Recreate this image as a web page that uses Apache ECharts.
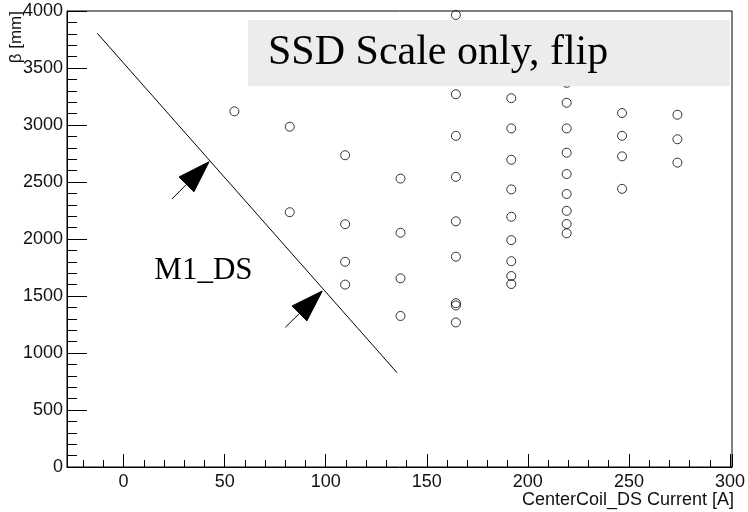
<!DOCTYPE html>
<html><head><meta charset="utf-8">
<script src="https://cdn.jsdelivr.net/npm/echarts@6/dist/echarts.min.js"></script>
<style>html,body{margin:0;padding:0;background:#fff}#c{width:748px;height:512px}</style>
</head><body><div id="c"></div>
<script>
// Coil currents [A] (columns of points)
const currents = [54.8, 82.2, 109.6, 137, 164.4, 191.8, 219.2, 246.6, 274];
// beta [mm] values at each current
const beta_54 = [3120];
const beta_82 = [2985, 2235];
const beta_110 = [2735, 2130, 1800, 1600];
const beta_137 = [2530, 2055, 1655, 1325];
const beta_164 = [3965, 3270, 2905, 2545, 2155, 1845, 1437, 1417, 1268];
const beta_192 = [3235, 2970, 2695, 2435, 2195, 1990, 1805, 1675, 1605];
const beta_219 = [3370, 3195, 2970, 2757, 2570, 2395, 2247, 2132, 2050];
const beta_247 = [3105, 2905, 2725, 2440];
const beta_274 = [3090, 2875, 2670];
const betaColumns = [beta_54, beta_82, beta_110, beta_137, beta_164, beta_192, beta_219, beta_247, beta_274];

// M1_DS boundary line (x [A], beta [mm])
const lineX = [-13, 135.3];
const lineY = [3804, 827];
// Arrows: tail and tip points
const arrowTail = [[23.9, 2351], [80.0, 1225]];
const arrowTip = [[42.3, 2678], [98.3, 1544]];
// Label
const labelText = ['M1_DS'];
const labelPos = [[15.2, 1719]];

const titleText = 'SSD Scale only, flip';
const xName = 'CenterCoil_DS Current [A]';
const yName = 'β [mm]';

const scatterData = [];
currents.forEach((c, i) => betaColumns[i].forEach(b => scatterData.push([c, b])));
const lineData = lineX.map((x, i) => [x, lineY[i]]);
const arrowData = arrowTail.map((t, i) => [t[0], t[1], arrowTip[i][0], arrowTip[i][1]]);
const labelData = labelPos.map((p, i) => [p[0], p[1], labelText[i]]);

const chart = echarts.init(document.getElementById('c'), null, {renderer: 'canvas'});
const black = '#000';
const option = {
  animation: false,
  grid: {left: 67, right: 12, top: 11, bottom: 45, show: true, borderColor: black, borderWidth: 1, backgroundColor: 'transparent'},
  xAxis: {
    type: 'value', min: -28, max: 301, splitNumber: 5,
    axisLine: {show: true, onZero: false, lineStyle: {color: black, width: 1}},
    axisTick: {show: true, inside: true, length: 13, lineStyle: {color: black}},
    minorTick: {show: true, splitNumber: 5, length: 7, lineStyle: {color: black}},
    splitLine: {show: false}, minorSplitLine: {show: false},
    axisLabel: {color: '#111', fontSize: 18, fontFamily: 'Liberation Sans', margin: 6,
      formatter: v => (Math.abs(v % 50) < 1e-6 ? String(Math.round(v)) : '')}
  },
  yAxis: {
    type: 'value', min: 0, max: 4000, interval: 500,
    axisLine: {show: true, onZero: false, lineStyle: {color: black, width: 1}},
    axisTick: {show: true, inside: true, length: 20, lineStyle: {color: black}},
    minorTick: {show: true, splitNumber: 5, length: 10, lineStyle: {color: black}},
    splitLine: {show: false}, minorSplitLine: {show: false},
    axisLabel: {color: '#111', fontSize: 18, fontFamily: 'Liberation Sans', margin: 4,
      formatter: v => String(Math.round(v))}
  },
  graphic: [
    {type: 'text', z: 100, x: 16, y: 11, rotation: Math.PI / 2,
      style: {text: yName, fontSize: 17, fontFamily: 'Liberation Sans', fill: '#111', align: 'right', verticalAlign: 'middle'}},
    {type: 'text', z: 100, x: 734, y: 500,
      style: {text: xName, fontSize: 18, fontFamily: 'Liberation Sans', fill: '#111', align: 'right', verticalAlign: 'middle'}},
    {type: 'rect', z: 100, shape: {x: 248, y: 20, width: 482, height: 66}, style: {fill: '#ececec'}},
    {type: 'text', z: 101, x: 268, y: 53,
      style: {text: titleText, fontSize: 42, fontFamily: 'Liberation Serif', fill: '#000', align: 'left', verticalAlign: 'middle'}}
  ],
  series: [
    {type: 'scatter', data: scatterData, symbol: 'circle', symbolSize: 9,
      itemStyle: {color: 'rgba(0,0,0,0)', borderColor: '#000', borderWidth: 1}, z: 3},
    {type: 'line', data: lineData, symbol: 'none', lineStyle: {color: '#000', width: 1}, z: 2},
    {type: 'custom', data: arrowData, encode: {x: [0, 2], y: [1, 3]}, z: 4,
      renderItem: (params, api) => {
        const p0 = api.coord([api.value(0), api.value(1)]);
        const p1 = api.coord([api.value(2), api.value(3)]);
        const dx = p1[0] - p0[0], dy = p1[1] - p0[1];
        const len = Math.hypot(dx, dy);
        const ux = dx / len, uy = dy / len;
        const L = 32, W = 10.5;
        const bx = p1[0] - ux * L, by = p1[1] - uy * L;
        const nx = -uy, ny = ux;
        return {type: 'group', children: [
          {type: 'line', shape: {x1: p0[0], y1: p0[1], x2: bx, y2: by}, style: {stroke: '#000', lineWidth: 1}},
          {type: 'polygon', shape: {points: [p1, [bx + nx * W, by + ny * W], [bx - nx * W, by - ny * W]]}, style: {fill: '#000', stroke: '#000', lineWidth: 1}}
        ]};
      }},
    {type: 'custom', data: labelData, encode: {x: 0, y: 1}, z: 4,
      renderItem: (params, api) => {
        const p = api.coord([api.value(0), api.value(1)]);
        return {type: 'text', x: p[0], y: p[1],
          style: {text: labelData[params.dataIndex][2], fontSize: 31, fontFamily: 'Liberation Serif', fill: '#000', align: 'left', verticalAlign: 'middle'}};
      }}
  ]
};
chart.setOption(option);
</script></body></html>
